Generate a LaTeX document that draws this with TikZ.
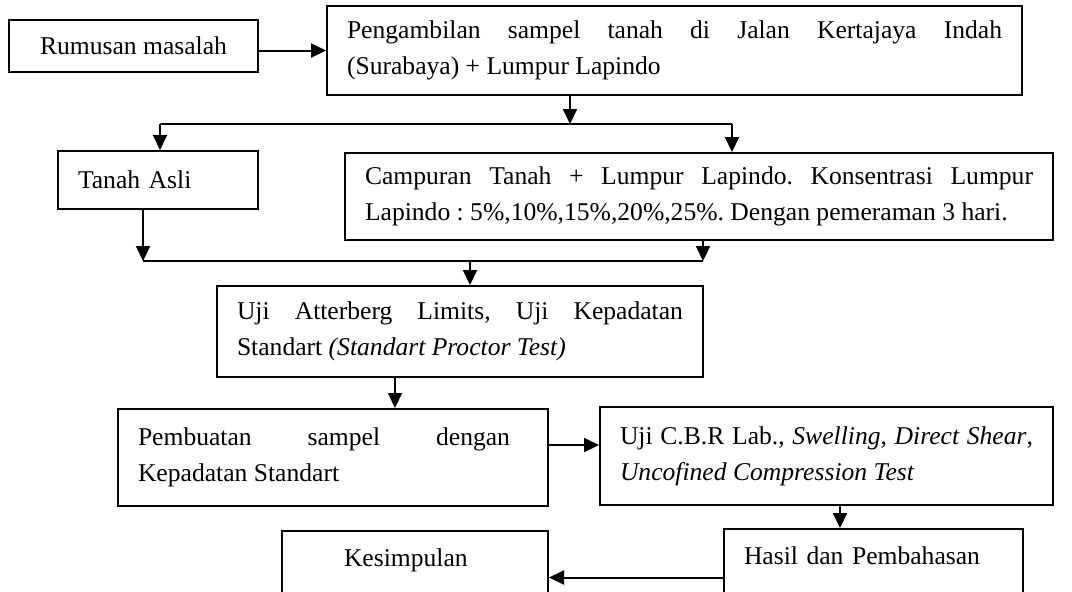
\documentclass[tikz,border=0pt]{standalone}
\usepackage{fontspec}
\setmainfont{Liberation Serif}
\usetikzlibrary{arrows.meta}
\hyphenpenalty=10000
\tolerance=9999
\frenchspacing
\begin{document}
\begin{tikzpicture}[x=0.5pt, y=-0.5pt, line width=1pt, >={Triangle[length=7.5pt,width=7pt]},
    box/.style={draw, anchor=north west, inner xsep=10pt, inner ysep=4pt, font=\fontsize{12.8}{18}\selectfont\frenchspacing}]
    \useasboundingbox (0,0) rectangle (1072,591);
    \clip (0,0) rectangle (1072,591);

    \node[box, minimum width=124.5pt, minimum height=26pt] (rumusan) at (8,19) {Rumusan masalah};
    \node[box, text width=327.5pt, minimum height=44.5pt, align=justify] (sampel) at (326,5)
        {Pengambilan sampel tanah di Jalan Kertajaya Indah\linebreak (Surabaya) + Lumpur Lapindo};
    \node[box, text width=80pt, minimum height=29pt, align=left] (asli) at (57,150) {Tanah Asli};
    \node[box, text width=334pt, minimum height=43.5pt, align=justify] (campuran) at (344,152)
        {Campuran Tanah + Lumpur Lapindo. Konsentrasi Lumpur\linebreak Lapindo : 5\%,10\%,15\%,20\%,25\%. Dengan pemeraman 3 hari.};
    \node[box, text width=223pt, minimum height=45.5pt, align=justify] (atterberg) at (216,285)
        {Uji Atterberg Limits, Uji Kepadatan\linebreak Standart \textit{(Standart Proctor Test)}};
    \node[box, text width=195pt, minimum height=48.5pt, align=justify] (pembuatan) at (117,408)
        {Pembuatan sampel dengan\hspace*{9pt}\linebreak Kepadatan Standart};
    \node[box, text width=206.5pt, minimum height=49pt, align=justify] (cbr) at (599,406)
        {Uji C.B.R Lab., \textit{Swelling}, \textit{Direct Shear},\linebreak \textit{Uncofined Compression Test}};
    \node[box, text width=129.5pt, align=left, inner ysep=5.5pt, text height=12pt, text depth=25.5pt] (hasil) at (723,528)
        {Hasil dan Pembahasan};
    \node[box, text width=113pt, align=left, inner ysep=5.5pt, text height=12pt, text depth=25.5pt] (kesimpulan) at (281,530)
        {\hspace*{21pt}Kesimpulan};

    \coordinate (pisah) at (570,124);
    \coordinate (pisahL) at (160,124);
    \coordinate (pisahR) at (732,124);
    \coordinate (gabungL) at (143,261);
    \coordinate (gabungR) at (703,261);
    \coordinate (gabung) at (470,261);

    \draw[->] (sampel.west -| rumusan.east) -- (sampel.west);
    \draw[->] (sampel.south -| pisah) -- (pisah);
    \draw (pisahL) -- (pisahR);
    \draw[->] (pisahL) -- (pisahL |- asli.north);
    \draw[->] (pisahR) -- (pisahR |- campuran.north);
    \draw[->] (asli.south -| gabungL) -- (gabungL);
    \draw[->] (campuran.south -| gabungR) -- (gabungR);
    \draw (gabungL) -- (gabungR);
    \draw[->] (gabung) -- (gabung |- atterberg.north);
    \draw[->] ([xshift=-32.5pt]atterberg.south) -- ([xshift=-32.5pt]atterberg.south |- pembuatan.north);
    \draw[->] ([yshift=6.25pt]pembuatan.east) -- ([yshift=6.25pt]pembuatan.east -| cbr.west);
    \draw[->] ([xshift=6.75pt]cbr.south) -- ([xshift=6.75pt]cbr.south |- hasil.north);
    \draw[->] (hasil.west) -- (hasil.west -| kesimpulan.east);
\end{tikzpicture}
\end{document}
